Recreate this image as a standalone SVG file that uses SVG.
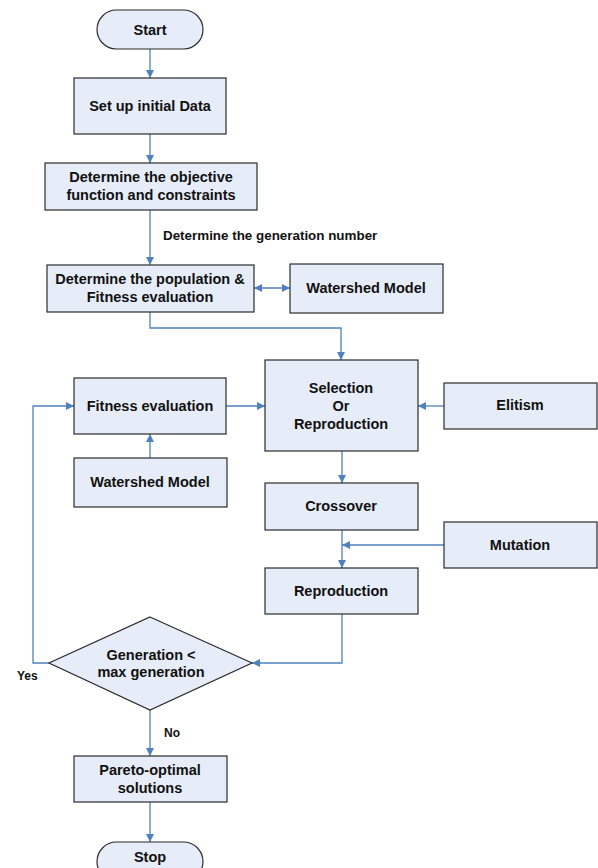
<svg xmlns="http://www.w3.org/2000/svg" width="598" height="868" viewBox="0 0 598 868">
<style>
.box{fill:#E7EDF8;stroke:#2b2b2b;stroke-width:1.2}
.t{font-family:"Liberation Sans",Arial,sans-serif;font-weight:bold;font-size:14.5px;fill:#111;text-anchor:middle;dominant-baseline:central}
.lbl{font-family:"Liberation Sans",Arial,sans-serif;font-weight:bold;font-size:12px;fill:#111}
.lbl.big{font-size:13.4px}
.c{fill:none;stroke:#4F81BD;stroke-width:1.3}
</style>
<defs>
<marker id="ah" viewBox="0 0 10 10" refX="10" refY="5" markerWidth="8" markerHeight="8" markerUnits="userSpaceOnUse" orient="auto-start-reverse">
<path d="M0,0 L10,5 L0,10 z" fill="#4F81BD"/>
</marker>
</defs>
<rect width="598" height="868" fill="#fff"/>
<g id="connectors">
<line class="c" x1="150" y1="49" x2="150" y2="78" marker-end="url(#ah)"/>
<line class="c" x1="150" y1="134" x2="150" y2="163" marker-end="url(#ah)"/>
<line class="c" x1="150" y1="210" x2="150" y2="265" marker-end="url(#ah)"/>
<line class="c" x1="254" y1="288" x2="290" y2="288" marker-start="url(#ah)" marker-end="url(#ah)"/>
<polyline class="c" points="150,312 150,328 341,328 341,360" marker-end="url(#ah)"/>
<line class="c" x1="226" y1="406" x2="265" y2="406" marker-end="url(#ah)"/>
<line class="c" x1="444" y1="406" x2="418" y2="406" marker-end="url(#ah)"/>
<line class="c" x1="150" y1="458" x2="150" y2="434" marker-end="url(#ah)"/>
<line class="c" x1="342" y1="451" x2="342" y2="483" marker-end="url(#ah)"/>
<line class="c" x1="342" y1="530" x2="342" y2="568" marker-end="url(#ah)"/>
<line class="c" x1="444" y1="545" x2="342" y2="545" marker-end="url(#ah)"/>
<polyline class="c" points="342,614 342,663 252,663" marker-end="url(#ah)"/>
<polyline class="c" points="49,663 33,663 33,406 74,406" marker-end="url(#ah)"/>
<line class="c" x1="150" y1="710" x2="150" y2="756" marker-end="url(#ah)"/>
<line class="c" x1="150" y1="802" x2="150" y2="842" marker-end="url(#ah)"/>
<text class="lbl big" x="163" y="239.5">Determine the generation number</text>
<text class="lbl" x="17" y="680">Yes</text>
<text class="lbl" x="164" y="737">No</text>
</g>
<g id="start"><rect class="box" x="97" y="10" width="106" height="39" rx="19.5"/><text class="t" x="150" y="30">Start</text></g>
<g id="setup"><rect class="box" x="74" y="78" width="152" height="56"/><text class="t" x="150" y="106">Set up initial Data</text></g>
<g id="objective"><rect class="box" x="45" y="163" width="212" height="47"/><text class="t" x="151" y="177">Determine the objective</text><text class="t" x="151" y="195">function and constraints</text></g>
<g id="population"><rect class="box" x="47" y="265" width="207" height="47"/><text class="t" x="150" y="279">Determine the population &amp;</text><text class="t" x="150" y="297">Fitness evaluation</text></g>
<g id="watershed1"><rect class="box" x="290" y="264" width="153" height="49"/><text class="t" x="366" y="288">Watershed Model</text></g>
<g id="fitness"><rect class="box" x="74" y="378" width="152" height="56"/><text class="t" x="150" y="406">Fitness evaluation</text></g>
<g id="selection"><rect class="box" x="265" y="360" width="153" height="91"/><text class="t" x="341" y="388">Selection</text><text class="t" x="341" y="406">Or</text><text class="t" x="341" y="424">Reproduction</text></g>
<g id="elitism"><rect class="box" x="444" y="383" width="153" height="46"/><text class="t" x="520" y="405">Elitism</text></g>
<g id="watershed2"><rect class="box" x="74" y="458" width="153" height="49"/><text class="t" x="150" y="482">Watershed Model</text></g>
<g id="crossover"><rect class="box" x="265" y="483" width="153" height="47"/><text class="t" x="341" y="506">Crossover</text></g>
<g id="mutation"><rect class="box" x="444" y="522" width="153" height="46"/><text class="t" x="520" y="545">Mutation</text></g>
<g id="reproduction"><rect class="box" x="265" y="568" width="153" height="46"/><text class="t" x="341" y="591">Reproduction</text></g>
<g id="decision"><polygon class="box" points="150,617 252,663 150,710 49,663"/><text class="t" x="151" y="655">Generation &lt;</text><text class="t" x="151" y="672">max generation</text></g>
<g id="pareto"><rect class="box" x="74" y="756" width="153" height="46"/><text class="t" x="150" y="770">Pareto-optimal</text><text class="t" x="150" y="788">solutions</text></g>
<g id="stop"><rect class="box" x="97" y="842" width="106" height="39" rx="19.5"/><text class="t" x="150" y="857">Stop</text></g>
</svg>
